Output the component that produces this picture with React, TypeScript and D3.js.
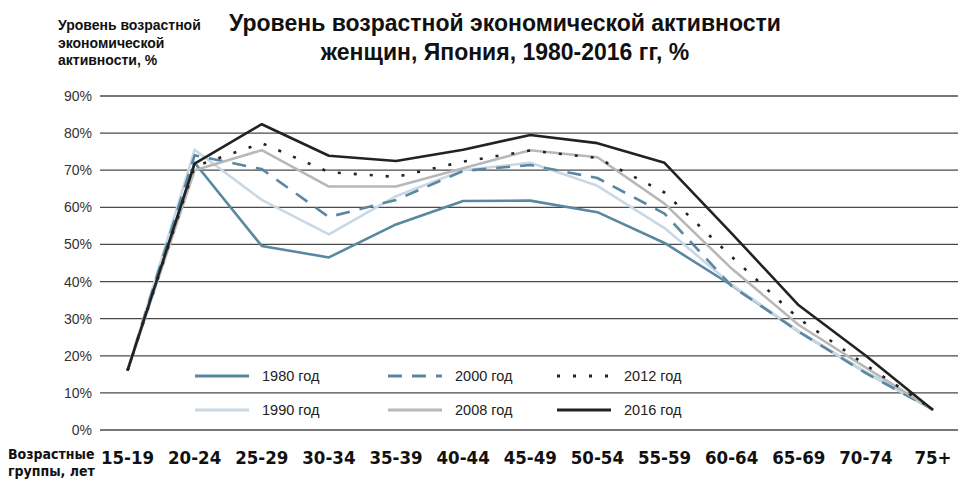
import React, { useRef, useEffect } from 'react'
import * as d3 from 'd3'

const ages = ['15-19', '20-24', '25-29', '30-34', '35-39', '40-44', '45-49', '50-54', '55-59', '60-64', '65-69', '70-74', '75+']
const yTicks = [0, 10, 20, 30, 40, 50, 60, 70, 80, 90]

const y1980 = [16, 72, 49.6, 46.5, 55.4, 61.7, 61.8, 58.7, 50.4, 39, 26.5, 15.5, 5.5]
const y1990 = [16, 75.5, 62, 52.7, 63, 70, 72, 65.8, 54.4, 39.2, 26.5, 15.5, 5.5]
const y2000 = [16, 74, 70.3, 57.4, 62, 69.8, 71.4, 67.9, 58.3, 38.8, 26.5, 15.3, 5.5]
const y2008 = [16, 70, 75.4, 65.6, 65.6, 70.5, 75.4, 73.5, 61, 43.5, 28.3, 16.8, 5.5]
const y2012 = [16, 71, 77.3, 69.5, 68.2, 72.3, 75.3, 73.3, 64, 46.7, 30, 17.5, 5.5]
const y2016 = [16, 71.8, 82.4, 73.9, 72.5, 75.5, 79.5, 77.3, 72, 53, 33.6, 20, 5.4]

const series = [
  { name: '1980 год', values: y1980, color: '#5a87a1', dash: null, col: 0, row: 0 },
  { name: '1990 год', values: y1990, color: '#c8d8e5', dash: null, col: 0, row: 1 },
  { name: '2000 год', values: y2000, color: '#5a87a1', dash: '14,10', col: 1, row: 0 },
  { name: '2008 год', values: y2008, color: '#b8b8b8', dash: null, col: 1, row: 1 },
  { name: '2012 год', values: y2012, color: '#222222', dash: '3,13', col: 2, row: 0 },
  { name: '2016 год', values: y2016, color: '#222222', dash: null, col: 2, row: 1 },
]

const W = 958
const H = 479
const sans = '"Liberation Sans", Arial, sans-serif'
const narrow = '"Liberation Sans Narrow", "DejaVu Sans Condensed", sans-serif'

export default function App() {
  const svgRef = useRef<SVGSVGElement>(null)

  useEffect(() => {
    if (!svgRef.current) return
    const svg = d3.select(svgRef.current)
    svg.selectAll('*').remove()

    const x = d3.scalePoint<string>().domain(ages).range([127.5, 933])
    const y = d3.scaleLinear().domain([0, 90]).range([430, 96])

    // gridlines + tick labels
    const grid = svg.append('g')
    yTicks.forEach(t => {
      grid.append('line')
        .attr('x1', 100).attr('x2', W)
        .attr('y1', y(t)).attr('y2', y(t))
        .attr('stroke', '#4a4a4a').attr('stroke-width', 1.3)
      grid.append('text')
        .attr('x', 92).attr('y', y(t) + 5)
        .attr('text-anchor', 'end')
        .attr('font-family', sans).attr('font-size', 14)
        .attr('fill', '#333')
        .text(`${t}%`)
    })

    // legend
    const legX = [195, 388, 557]
    const legY = [376, 410]
    series.forEach(s => {
      const lx = legX[s.col]
      const ly = legY[s.row]
      svg.append('line')
        .attr('x1', lx).attr('x2', lx + 54)
        .attr('y1', ly).attr('y2', ly)
        .attr('stroke', s.color).attr('stroke-width', 3)
        .attr('stroke-dasharray', s.dash)
      svg.append('text')
        .attr('x', lx + 67).attr('y', ly + 5)
        .attr('font-family', sans).attr('font-size', 14.5)
        .attr('fill', '#222')
        .text(s.name)
    })

    // lines
    const line = d3.line<number>()
      .x((_, i) => x(ages[i]) as number)
      .y(d => y(d))
    series.forEach(s => {
      svg.append('path')
        .attr('d', line(s.values))
        .attr('fill', 'none')
        .attr('stroke', s.color)
        .attr('stroke-width', 2.6)
        .attr('stroke-linejoin', 'round')
        .attr('stroke-dasharray', s.dash)
    })

    // x labels
    ages.forEach(a => {
      svg.append('text')
        .attr('x', x(a) as number).attr('y', 464)
        .attr('text-anchor', 'middle')
        .attr('font-family', narrow).attr('font-size', 18.5).attr('font-weight', 'bold')
        .attr('fill', '#111')
        .text(a)
    })
    const xt = svg.append('text')
      .attr('font-family', narrow).attr('font-size', 14).attr('font-weight', 'bold')
      .attr('fill', '#111')
    xt.append('tspan').attr('x', 8).attr('y', 459).text('Возрастные')
    xt.append('tspan').attr('x', 8).attr('y', 476).text('группы, лет')

    // y title
    const yt = svg.append('text')
      .attr('font-family', sans).attr('font-size', 14).attr('font-weight', 'bold')
      .attr('fill', '#111')
    ;['Уровень возрастной', 'экономической', 'активности, %'].forEach((l, i) => {
      yt.append('tspan').attr('x', 58).attr('y', 30 + i * 17.5).text(l)
    })

    // title
    const title = svg.append('text')
      .attr('text-anchor', 'middle')
      .attr('font-family', sans).attr('font-size', 23).attr('font-weight', 'bold')
      .attr('fill', '#111')
    title.append('tspan').attr('x', 505).attr('y', 31).text('Уровень возрастной экономической активности')
    title.append('tspan').attr('x', 505).attr('y', 60).text('женщин, Япония, 1980-2016 гг, %')
  }, [])

  return (
    <svg ref={svgRef} width={W} height={H}
      style={{ position: 'absolute', left: 0, top: 0, background: '#fff' }} />
  )
}
